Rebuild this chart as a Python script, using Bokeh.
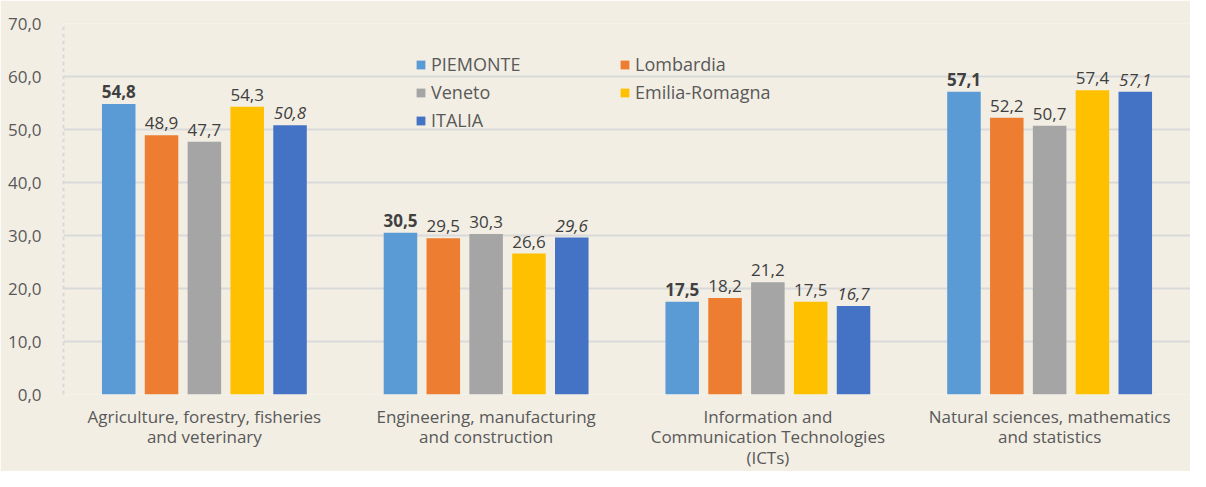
from bokeh.plotting import figure
from bokeh.models import (ColumnDataSource, FactorRange, Range1d, FixedTicker,
                          CustomJSTickFormatter, Legend, LegendItem)
from bokeh.transform import dodge
from bokeh.core.properties import value
from bokeh.embed import file_html
from bokeh.resources import INLINE

categories = ["Agriculture, forestry, fisheries\nand veterinary",
              "Engineering, manufacturing\nand construction",
              "Information and\nCommunication Technologies\n(ICTs)",
              "Natural sciences, mathematics\nand statistics"]
series_names = ["PIEMONTE", "Lombardia", "Veneto", "Emilia-Romagna", "ITALIA"]
piemonte = [54.8, 30.5, 17.5, 57.1]
lombardia = [48.9, 29.5, 18.2, 52.2]
veneto = [47.7, 30.3, 21.2, 50.7]
emilia_romagna = [54.3, 26.6, 17.5, 57.4]
italia = [50.8, 29.6, 16.7, 57.1]
y_ticks = [0, 10, 20, 30, 40, 50, 60, 70]

series_values = [piemonte, lombardia, veneto, emilia_romagna, italia]
colors = ["#5B9BD5", "#ED7D31", "#A5A5A5", "#FFC000", "#4472C4"]
label_styles = ["bold", "normal", "normal", "normal", "italic"]
offsets = [-0.304, -0.152, 0.0, 0.152, 0.304]

BG = "#F2EEE4"
FONT = "Open Sans"

p = figure(width=1190, height=471, output_backend="svg", toolbar_location=None,
           x_range=FactorRange(*categories, range_padding=0),
           y_range=Range1d(0, 70),
           min_border_left=63, min_border_right=0, min_border_top=23, min_border_bottom=60)
p.background_fill_color = BG
p.border_fill_color = BG
p.outline_line_color = None

legend_items = []
for name, vals, col, style, off in zip(series_names, series_values, colors, label_styles, offsets):
    src = ColumnDataSource(dict(cat=categories, val=vals,
                                lab=[f"{v:.1f}".replace(".", ",") for v in vals]))
    r = p.vbar(x=dodge("cat", off, range=p.x_range), top="val", width=0.119,
               source=src, fill_color=col, line_color=None)
    legend_items.append(LegendItem(label=name, renderers=[r]))
    p.text(x=dodge("cat", off, range=p.x_range), y="val", text="lab", source=src,
           text_align="center", text_baseline="bottom", y_offset=-6,
           text_font=value(FONT), text_font_size="17px", text_color="#404040",
           text_font_style=style)

legend = Legend(items=legend_items, orientation="horizontal", ncols=2,
                location=(352, 262), padding=0, spacing=4, margin=0,
                glyph_width=11, glyph_height=11, label_standoff=5,
                label_width=184, label_height=24,
                label_text_font=FONT, label_text_font_size="18px",
                label_text_color="#595959",
                background_fill_alpha=0, border_line_color=None)
p.add_layout(legend, "center")

p.ygrid.ticker = FixedTicker(ticks=y_ticks)
p.ygrid.grid_line_color = "#D9D9D9"
p.ygrid.grid_line_width = 2
p.xgrid.grid_line_color = None

p.yaxis.ticker = FixedTicker(ticks=y_ticks)
p.yaxis.formatter = CustomJSTickFormatter(code="return tick.toFixed(1).replace('.', ',');")
p.yaxis.axis_line_color = "#D9D9D9"
p.yaxis.axis_line_dash = "4 3"
p.yaxis.axis_line_width = 2
p.yaxis.major_tick_line_color = None
p.yaxis.minor_tick_line_color = None
p.yaxis.major_label_standoff = 16
p.yaxis.major_label_text_font = FONT
p.yaxis.major_label_text_font_size = "17px"
p.yaxis.major_label_text_color = "#595959"

p.xaxis.axis_line_color = None
p.xaxis.major_tick_line_color = None
p.xaxis.minor_tick_line_color = None
p.xaxis.major_label_standoff = 4
p.xaxis.major_label_text_font = FONT
p.xaxis.major_label_text_font_size = "17px"
p.xaxis.major_label_text_color = "#595959"
p.xaxis.major_label_text_line_height = 0.9

open("out.html", "w").write(file_html(p, INLINE))
